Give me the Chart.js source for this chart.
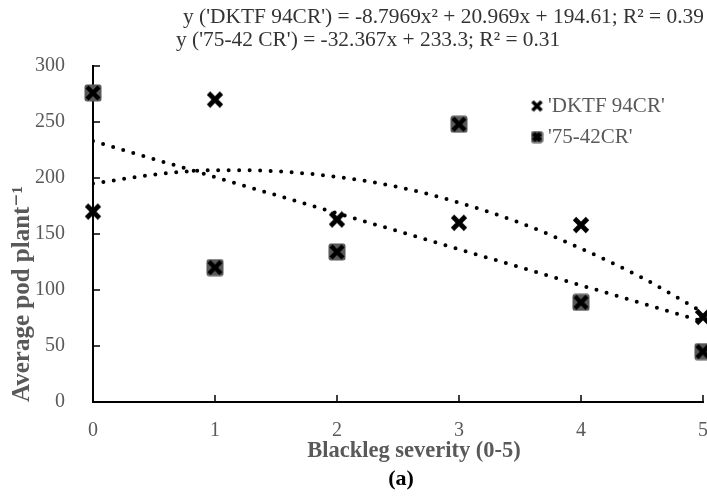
<!DOCTYPE html>
<html>
<head>
<meta charset="utf-8">
<script src="https://cdn.jsdelivr.net/npm/chart.js@4.4.1/dist/chart.umd.min.js"></script>
<style>
  html, body { margin: 0; padding: 0; background: #fff; overflow: hidden; }
  #wrap { width: 740px; height: 496px; position: relative; }
</style>
</head>
<body>
<div id="wrap"><canvas id="chart"></canvas></div>
<script>
// ---- data --------------------------------------------------------------------
const severity = [0, 1, 2, 3, 4, 5];
const dktf = [170, 270, 163, 160, 158, 76];     // 'DKTF 94CR'
const cr7542 = [276, 120, 134, 248, 89, 45];    // '75-42CR'
// dotted trendlines, values
const polyX = [0, 0.5, 1, 1.5, 2, 2.5, 3, 3.5, 4, 4.5, 5];
const polyY = [195, 203, 207, 206, 201, 192, 178, 160, 137, 111, 80];
const linX = [0, 5];
const linY = [233, 72];
const yTicks = [0, 50, 100, 150, 200, 250, 300];
const equations = [
  "y ('DKTF 94CR') = -8.7969x² + 20.969x + 194.61; R² = 0.39",
  "y ('75-42 CR') = -32.367x + 233.3; R² = 0.31",
];
const seriesNames = ["'DKTF 94CR'", "'75-42CR'"];
const xTitle = "Blackleg severity (0-5)";
const panel = "(a)";

const SERIF = "'Liberation Serif', 'DejaVu Serif', serif";
const GREY = "#595959";

// ---- marker images -----------------------------------------------------------
function cross(size, pad, lw) {
  const c = document.createElement("canvas");
  c.width = c.height = size;
  const g = c.getContext("2d");
  g.strokeStyle = "#000"; g.lineWidth = lw;
  g.beginPath();
  g.moveTo(pad, pad); g.lineTo(size - pad, size - pad);
  g.moveTo(size - pad, pad); g.lineTo(pad, size - pad);
  g.stroke();
  return c;
}
function boxCross(size) {
  const c = document.createElement("canvas");
  c.width = c.height = size;
  const g = c.getContext("2d");
  g.fillStyle = GREY;
  g.beginPath(); g.roundRect(0.5, 0.5, size - 1, size - 1, 2.5); g.fill();
  g.drawImage(cross(size, 3, 4.5), 0, 0);
  return c;
}
const xMark = cross(18, 2.5, 4.8);
const boxMark = boxCross(18);
const xMarkSmall = cross(13, 2, 3.6);
const boxMarkSmall = boxCross(13);

const pts = (xs, ys) => xs.map((x, i) => ({ x, y: ys[i] }));

// inward tick marks (Excel style)
const innerTicks = {
  id: "innerTicks",
  afterDraw(chart) {
    const { ctx, chartArea: a, scales: { x, y } } = chart;
    ctx.save();
    ctx.strokeStyle = "#000"; ctx.lineWidth = 1.5;
    ctx.beginPath();
    severity.forEach((v) => { const px = x.getPixelForValue(v); ctx.moveTo(px, a.bottom); ctx.lineTo(px, a.bottom - 7); });
    yTicks.forEach((v) => { const py = y.getPixelForValue(v); ctx.moveTo(a.left, py); ctx.lineTo(a.left + 7, py); });
    ctx.stroke();
    ctx.restore();
  },
};

// equations, legend, x title and panel label
const annotate = {
  id: "annotate",
  afterDraw(chart) {
    const { ctx } = chart;
    ctx.save();
    ctx.textBaseline = "middle";
    ctx.fillStyle = "#333";
    ctx.font = `21.4px ${SERIF}`;
    ctx.textAlign = "left";
    ctx.fillText(equations[0], 183, 17);
    ctx.fillText(equations[1], 176, 40);

    const marks = [xMarkSmall, boxMarkSmall];
    ctx.fillStyle = GREY;
    ctx.font = `21px ${SERIF}`;
    seriesNames.forEach((name, i) => {
      const yy = 106 + i * 31;
      ctx.drawImage(marks[i], 537 - marks[i].width / 2, yy - marks[i].height / 2);
      ctx.fillText(name, 548, yy);
    });

    ctx.textAlign = "center";
    ctx.font = `bold 22.5px ${SERIF}`;
    ctx.fillText(xTitle, 414, 451);

    ctx.fillStyle = "#000";
    ctx.font = `bold 22px ${SERIF}`;
    ctx.fillText(panel, 401, 479);
    ctx.restore();
  },
};

new Chart(document.getElementById("chart"), {
  type: "scatter",
  data: {
    datasets: [
      { label: seriesNames[0], data: pts(severity, dktf), pointStyle: xMark, order: 1, clip: false },
      { label: seriesNames[1], data: pts(severity, cr7542), pointStyle: boxMark, order: 2, clip: false },
      {
        label: "poly", type: "line", data: pts(polyX, polyY), order: 3,
        borderColor: "#000", borderWidth: 4, borderDash: [0, 10.5], borderCapStyle: "round",
        pointRadius: 0, cubicInterpolationMode: "monotone", fill: false,
      },
      {
        label: "linear", type: "line", data: pts(linX, linY), order: 4,
        borderColor: "#000", borderWidth: 4, borderDash: [0, 10.5], borderCapStyle: "round",
        pointRadius: 0, fill: false,
      },
    ],
  },
  options: {
    responsive: true,
    maintainAspectRatio: false,
    animation: false,
    layout: { padding: { top: 66, right: 37, left: 0, bottom: 28 } },
    plugins: { legend: { display: false }, tooltip: { enabled: false }, title: { display: false } },
    scales: {
      x: {
        type: "linear", min: 0, max: 5,
        afterFit: (s) => { s.height = 66; },
        grid: { display: false },
        border: { display: true, color: "#000", width: 2 },
        ticks: { stepSize: 1, color: GREY, font: { family: SERIF, size: 20 }, padding: 9 },
      },
      y: {
        min: 0, max: 300,
        afterFit: (s) => { s.width = 93; },
        grid: { display: false },
        border: { display: true, color: "#000", width: 2 },
        ticks: { stepSize: 50, color: GREY, font: { family: SERIF, size: 20 }, padding: 20 },
        title: {
          display: true, text: "Average pod plant⁻¹", color: GREY, align: "start",
          font: { family: SERIF, size: 25, weight: "bold" }, padding: { top: 8, bottom: 0 },
        },
      },
    },
  },
  plugins: [innerTicks, annotate],
});
</script>
</body>
</html>
